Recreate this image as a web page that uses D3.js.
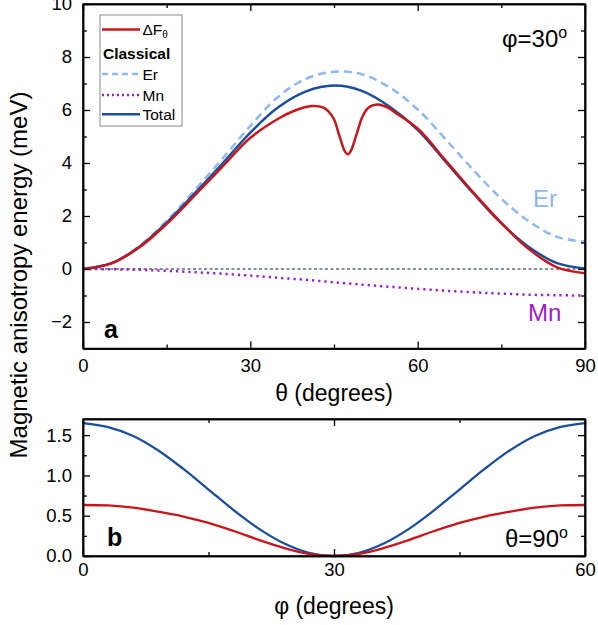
<!DOCTYPE html>
<html>
<head>
<meta charset="utf-8">
<script src="https://cdn.jsdelivr.net/npm/d3@7"></script>
<style>
  body { margin: 0; background: #fff; }
  svg { font-family: "Liberation Sans", Arial, sans-serif; }
  .axis path, .axis line { stroke: #000; }
  .axis path { stroke-width: 1.5; }
  .axis line { stroke-width: 1.3; }
  .axis text { font-size: 18.5px; fill: #000; }
</style>
</head>
<body>
<svg id="chart" width="598" height="625"></svg>
<script>
// panel a: phi = 30 deg, energies vs theta (meV)
const theta = [0, 5, 10, 15, 20, 25, 30, 35, 40, 45, 50, 55, 60, 65, 70, 75, 80, 85, 90];
const totalA = [0, 0.21, 0.82, 1.75, 2.85, 3.98, 5.15, 6.1, 6.7, 6.92, 6.72, 6.12, 5.25, 4.05, 2.85, 1.72, 0.82, 0.22, 0.02];
const erA = [0, 0.22, 0.85, 1.82, 2.97, 4.16, 5.4, 6.5, 7.18, 7.44, 7.35, 6.85, 6.02, 4.9, 3.73, 2.65, 1.79, 1.21, 1.03];
const mnA = [0, -0.01, -0.03, -0.07, -0.12, -0.18, -0.25, -0.33, -0.41, -0.5, -0.59, -0.67, -0.75, -0.82, -0.88, -0.93, -0.97, -0.99, -1.0];
const dfTheta = [0, 5, 10, 15, 20, 25, 30, 35, 38, 41, 43, 44, 45, 46, 47, 47.5, 48, 49, 50, 51, 52, 53, 54, 55, 56, 60, 65, 70, 75, 80, 85, 87.5, 90];
const dfA = [0, 0.2, 0.8, 1.7, 2.77, 3.86, 4.95, 5.67, 5.98, 6.15, 6.1, 5.95, 5.65, 5.0, 4.42, 4.33, 4.45, 5.05, 5.7, 6.05, 6.18, 6.21, 6.15, 6.05, 5.9, 5.3, 4.1, 2.88, 1.74, 0.74, 0.06, -0.08, -0.16];

// panel b: theta = 90 deg, energies vs phi
const phi = [0, 3, 6, 9, 12, 15, 18, 21, 24, 27, 30, 33, 36, 39, 42, 45, 48, 51, 54, 57, 60];
const totalB = [1.65, 1.6, 1.49, 1.31, 1.08, 0.825, 0.57, 0.34, 0.158, 0.04, 0, 0.04, 0.158, 0.34, 0.57, 0.825, 1.08, 1.31, 1.49, 1.6, 1.65];
const dfB = [0.633, 0.627, 0.6, 0.55, 0.49, 0.41, 0.31, 0.2, 0.1, 0.025, 0, 0.025, 0.1, 0.2, 0.31, 0.41, 0.49, 0.55, 0.6, 0.627, 0.633];

const xTicksA = [0, 30, 60, 90], xMinorA = [15, 45, 75];
const yTicksA = [-2, 0, 2, 4, 6, 8, 10], yMinorA = [-3, -1, 1, 3, 5, 7, 9];
const xTicksB = [0, 30, 60], xMinorB = [15, 45];
const yTicksB = [0, 0.5, 1.0, 1.5], yMinorB = [0.25, 0.75, 1.25];

const RED = "#c8161d", BLUE = "#1b4f9c", ER = "#8fb8ee", MN = "#9b1dcc";

const svg = d3.select("#chart");
const L = 83, R = 585;

function frame(g, x, y, xt, xm, yt, ym, pad, fmt) {
  const [y0, y1] = y.range();
  g.append("g").attr("class", "axis").attr("transform", `translate(0,${y0})`)
    .call(d3.axisBottom(x).tickValues(xt).tickSize(-7).tickPadding(pad).tickSizeOuter(0));
  g.append("g").attr("class", "axis").attr("transform", `translate(0,${y0})`)
    .call(d3.axisBottom(x).tickValues(xm).tickSize(-4).tickFormat("").tickSizeOuter(0));
  g.append("g").attr("class", "axis").attr("transform", `translate(0,${y1})`)
    .call(d3.axisTop(x).tickValues(xt).tickSize(-7).tickFormat("").tickSizeOuter(0));
  g.append("g").attr("class", "axis").attr("transform", `translate(0,${y1})`)
    .call(d3.axisTop(x).tickValues(xm).tickSize(-4).tickFormat("").tickSizeOuter(0));
  g.append("g").attr("class", "axis").attr("transform", `translate(${L},0)`)
    .call(d3.axisLeft(y).tickValues(yt).tickSize(-7).tickPadding(11).tickFormat(fmt).tickSizeOuter(0));
  g.append("g").attr("class", "axis").attr("transform", `translate(${L},0)`)
    .call(d3.axisLeft(y).tickValues(ym).tickSize(-4).tickFormat("").tickSizeOuter(0));
  g.append("g").attr("class", "axis").attr("transform", `translate(${R},0)`)
    .call(d3.axisRight(y).tickValues(yt).tickSize(-7).tickFormat("").tickSizeOuter(0));
  g.append("g").attr("class", "axis").attr("transform", `translate(${R},0)`)
    .call(d3.axisRight(y).tickValues(ym).tickSize(-4).tickFormat("").tickSizeOuter(0));
}

function curve(g, xs, ys, x, y, color, w, dash) {
  const line = d3.line().x((d, i) => x(xs[i])).y(d => y(d)).curve(d3.curveCatmullRom.alpha(0.5));
  g.append("path").datum(ys).attr("d", line).attr("fill", "none")
    .attr("stroke", color).attr("stroke-width", w).attr("stroke-dasharray", dash || null);
}

// ---- panel a
const xA = d3.scaleLinear().domain([0, 90]).range([L, R]);
const yA = d3.scaleLinear().domain([-3, 10]).range([348.5, 4]);
const ga = svg.append("g");

ga.append("line").attr("x1", L).attr("x2", R).attr("y1", yA(0)).attr("y2", yA(0))
  .attr("stroke", "#5c6b80").attr("stroke-width", 1.3).attr("stroke-dasharray", "3,2.5");
curve(ga, theta, mnA, xA, yA, MN, 2.5, "2.2,4");
curve(ga, theta, erA, xA, yA, ER, 2.5, "8,5");
curve(ga, theta, totalA, xA, yA, BLUE, 2.5);
curve(ga, dfTheta, dfA, xA, yA, RED, 2.5);
ga.append("rect").attr("x", L).attr("y", 4).attr("width", R - L).attr("height", 344.5)
  .attr("fill", "none").attr("stroke", "#000").attr("stroke-width", 1.5);
frame(ga, xA, yA, xTicksA, xMinorA, yTicksA, yMinorA, 10, d3.format("d"));

ga.append("text").attr("x", (L + R) / 2).attr("y", 401).attr("text-anchor", "middle")
  .style("font-size", "23px").text("θ (degrees)");
ga.append("text").attr("x", 104).attr("y", 338).style("font-size", "25px").style("font-weight", "bold").text("a");
const p30 = ga.append("text").attr("x", 502).attr("y", 47).style("font-size", "24px");
p30.append("tspan").text("φ=30");
p30.append("tspan").attr("dy", -9).style("font-size", "16px").text("o");
ga.append("text").attr("x", 533).attr("y", 207).style("font-size", "24px").attr("fill", ER).text("Er");
ga.append("text").attr("x", 528).attr("y", 321).style("font-size", "24px").attr("fill", MN).text("Mn");

// legend
const lg = ga.append("g");
lg.append("rect").attr("x", 100).attr("y", 15).attr("width", 82).attr("height", 111)
  .attr("fill", "#fff").attr("stroke", "#888").attr("stroke-width", 1);
const legendRows = [
  { y: 29.5, color: RED, dash: null, label: "ΔF", sub: "θ" },
  { y: 74, color: ER, dash: "6,4", label: "Er" },
  { y: 95, color: MN, dash: "2,3", label: "Mn" },
  { y: 114.3, color: BLUE, dash: null, label: "Total" }
];
legendRows.forEach(r => {
  lg.append("line").attr("x1", 102).attr("x2", 140).attr("y1", r.y).attr("y2", r.y)
    .attr("stroke", r.color).attr("stroke-width", 2.5).attr("stroke-dasharray", r.dash);
  const t = lg.append("text").attr("x", 142.5).attr("y", r.y + 5.5).style("font-size", "15.5px");
  t.append("tspan").text(r.label);
  if (r.sub) t.append("tspan").attr("dy", 3).style("font-size", "10px").text(r.sub);
});
lg.append("text").attr("x", 103).attr("y", 59).style("font-size", "15.5px").style("font-weight", "bold").text("Classical");

// ---- panel b
const xB = d3.scaleLinear().domain([0, 60]).range([L, R]);
const yB = d3.scaleLinear().domain([0, 1.7]).range([556, 419]);
const gb = svg.append("g");
curve(gb, phi, totalB, xB, yB, BLUE, 2.3);
curve(gb, phi, dfB, xB, yB, RED, 2.3);
gb.append("rect").attr("x", L).attr("y", 419).attr("width", R - L).attr("height", 137)
  .attr("fill", "none").attr("stroke", "#000").attr("stroke-width", 1.5);
frame(gb, xB, yB, xTicksB, xMinorB, yTicksB, yMinorB, 7, d3.format(".1f"));

gb.append("text").attr("x", (L + R) / 2).attr("y", 614).attr("text-anchor", "middle")
  .style("font-size", "23px").text("φ (degrees)");
gb.append("text").attr("x", 107).attr("y", 546).style("font-size", "25px").style("font-weight", "bold").text("b");
const t90 = gb.append("text").attr("x", 505).attr("y", 547).style("font-size", "24px");
t90.append("tspan").text("θ=90");
t90.append("tspan").attr("dy", -9).style("font-size", "16px").text("o");

// shared y title
svg.append("text").attr("transform", "translate(27,275) rotate(-90)").attr("text-anchor", "middle")
  .style("font-size", "24px").text("Magnetic anisotropy energy (meV)");
</script>
</body>
</html>
